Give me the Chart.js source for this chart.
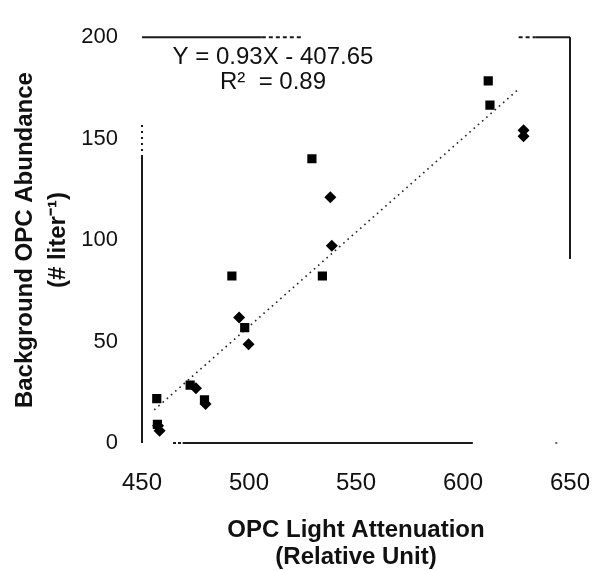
<!DOCTYPE html>
<html><head><meta charset="utf-8">
<script src="https://cdn.jsdelivr.net/npm/chart.js@4/dist/chart.umd.min.js"></script>
<style>html,body{margin:0;padding:0;background:#fff}#wrap{width:616px;height:571px}</style>
</head><body><div id="wrap"><canvas id="c" width="616" height="571"></canvas></div>
<script>
// Square-marker series
const squareX = [456.9, 457.2, 472.5, 479.2, 492.0, 498.0, 529.4, 534.3, 611.8, 612.6];
const squareY = [21.9, 9.2, 28.5, 21.3, 82.3, 56.9, 140.1, 82.3, 178.5, 166.5];
// Diamond-marker series
const diamondX = [458.2, 457.5, 475.2, 479.7, 495.4, 499.8, 538.0, 538.7, 628.3, 628.3];
const diamondY = [6.0, 8.5, 27.0, 19.2, 61.9, 48.7, 121.1, 97.2, 154.2, 151.2];
// Regression line end points
const fitX = [455.7, 626.0];
const fitY = [16.3, 174.4];
// Tick labels
const xTicks = [450, 500, 550, 600, 650];
const yTicks = [0, 50, 100, 150, 200];
const equationText = ['Y = 0.93X - 407.65', 'R\u00B2  = 0.89'];
const xTitle = ['OPC Light Attenuation', '(Relative Unit)'];
const yTitle = ['Background OPC Abundance', '(# liter\u207B\u00B9)'];

const FONT = '"Liberation Sans", Arial, Helvetica, sans-serif';
const zip = (xs, ys) => xs.map((x, i) => ({x, y: ys[i]}));

const framePlugin = {
  id: 'frame',
  beforeDatasetsDraw(chart) {
    const {ctx, scales: {x, y}, chartArea} = chart;
    const segs = [
      {p: [[450, 0], [450, 141]], d: []},
      {p: [[450, 141], [450, 158]], d: [2, 4]},
      {p: [[464.5, 0], [469, 0]], d: [3, 2]},
      {p: [[469, 0], [604.6, 0]], d: []},
      {p: [[450, 200], [506, 200]], d: []},
      {p: [[506, 200], [525, 200]], d: [4, 3]},
      {p: [[626, 200], [634, 200]], d: [4, 3]},
      {p: [[634, 200], [650, 200]], d: []},
      {p: [[650, 200], [650, 90.7]], d: []}
    ];
    ctx.save();
    ctx.strokeStyle = '#1a1a1a';
    ctx.lineWidth = 2;
    segs.forEach(s => {
      ctx.setLineDash(s.d);
      ctx.beginPath();
      ctx.moveTo(x.getPixelForValue(s.p[0][0]), y.getPixelForValue(s.p[0][1]));
      ctx.lineTo(x.getPixelForValue(s.p[1][0]), y.getPixelForValue(s.p[1][1]));
      ctx.stroke();
    });
    ctx.setLineDash([]);
    ctx.fillStyle = '#666';
    ctx.fillRect(x.getPixelForValue(643.6) - 1, y.getPixelForValue(0) - 1, 2, 2);
    // equation annotation
    ctx.fillStyle = '#111';
    ctx.font = '24px ' + FONT;
    ctx.textAlign = 'center';
    ctx.textBaseline = 'middle';
    const cx = chartArea.left + 131;
    ctx.fillText(equationText[0], cx, chartArea.top + 20);
    ctx.fillText(equationText[1], cx, chartArea.top + 45);
    ctx.restore();
  }
};

new Chart(document.getElementById('c'), {
  type: 'scatter',
  data: {
    datasets: [
      {data: zip(squareX, squareY), pointStyle: 'rect', pointRadius: 6.5, backgroundColor: '#000', borderColor: '#000', borderWidth: 0},
      {data: zip(diamondX, diamondY), pointStyle: 'rectRot', pointRadius: 6, backgroundColor: '#000', borderColor: '#000', borderWidth: 0},
      {type: 'line', data: zip(fitX, fitY), borderColor: '#222', borderWidth: 1.6, borderDash: [1.6, 4], pointRadius: 0, fill: false}
    ]
  },
  options: {
    responsive: false,
    animation: false,
    layout: {padding: {left: 0, top: 13, right: 20, bottom: 0}},
    plugins: {legend: {display: false}, tooltip: {enabled: false}},
    scales: {
      x: {
        type: 'linear', min: 450, max: 650,
        afterBuildTicks: s => { s.ticks = xTicks.map(v => ({value: v})); },
        afterFit: s => { s.height = 128; },
        grid: {display: false, drawTicks: false},
        border: {display: false},
        ticks: {padding: 26, color: '#111', font: {family: FONT, size: 24}},
        title: {display: true, text: xTitle, color: '#111', padding: {top: 0, bottom: 0},
                font: {family: FONT, size: 24, weight: 'bold', lineHeight: 1.125}}
      },
      y: {
        type: 'linear', min: 0, max: 200,
        afterBuildTicks: s => { s.ticks = yTicks.map(v => ({value: v})); },
        afterFit: s => { s.width = 142; },
        grid: {display: false, drawTicks: false},
        border: {display: false},
        ticks: {padding: 24, color: '#111', font: {family: FONT, size: 22}},
        title: {display: true, text: yTitle, color: '#111', padding: {top: 8.5, bottom: 0},
                font: {family: FONT, size: 24, weight: 'bold', lineHeight: 1.375}}
      }
    }
  },
  plugins: [framePlugin]
});
</script></body></html>
